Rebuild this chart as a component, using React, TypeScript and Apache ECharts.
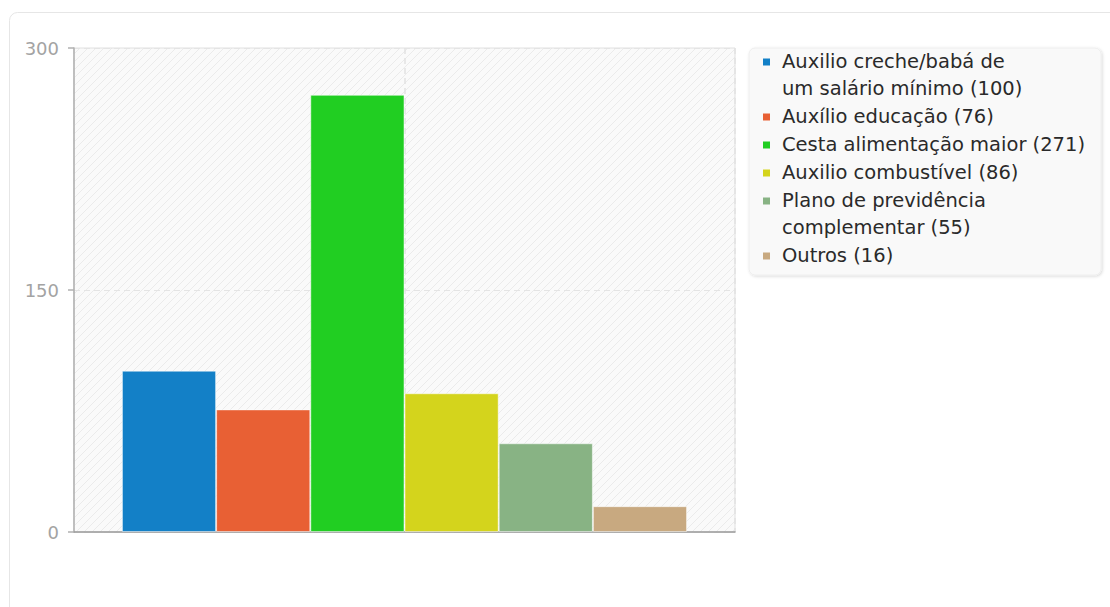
import React, { useEffect, useRef } from "react";
import * as echarts from "echarts";

const seriesNames = [
  "Auxilio creche/babá de\num salário mínimo",
  "Auxílio educação",
  "Cesta alimentação maior",
  "Auxilio combustível",
  "Plano de previdência\ncomplementar",
  "Outros",
];
const seriesValues = [100, 76, 271, 86, 55, 16];
const seriesColors = ["#1380c7", "#e86034", "#21ce22", "#d4d41c", "#88b384", "#c8a980"];
const yTicks = [0, 150, 300];

function makeHatch(): string {
  const c = document.createElement("canvas");
  c.width = 8;
  c.height = 8;
  const ctx = c.getContext("2d");
  if (ctx) {
    ctx.fillStyle = "#fafafa";
    ctx.fillRect(0, 0, 8, 8);
    ctx.strokeStyle = "#ebebeb";
    ctx.lineWidth = 1;
    ctx.beginPath();
    ctx.moveTo(0, 8);
    ctx.lineTo(8, 0);
    ctx.moveTo(-4, 4);
    ctx.lineTo(4, -4);
    ctx.moveTo(4, 12);
    ctx.lineTo(12, 4);
    ctx.stroke();
  }
  return c.toDataURL();
}

export default function App() {
  const ref = useRef<HTMLDivElement>(null);
  useEffect(() => {
    document.body.style.margin = "0";
    if (!ref.current) return;
    const chart = echarts.init(ref.current, undefined, { renderer: "svg" });
    const font = "DejaVu Sans";
    const gridL = 74, gridT = 48, gridW = 661, gridH = 484;

    const legendItems: any[] = [];
    const lineH = 27;
    let y = 61.5;
    seriesNames.forEach((n, i) => {
      const lines = (n + " (" + seriesValues[i] + ")").split("\n");
      legendItems.push({
        type: "rect",
        z: 20,
        shape: { x: 763, y: y - 3, width: 7, height: 7 },
        style: { fill: seriesColors[i] },
      });
      lines.forEach((ln) => {
        legendItems.push({
          type: "text",
          z: 20,
          x: 782,
          y: y,
          style: {
            text: ln,
            fill: "#2a2a2a",
            font: "19.5px " + font,
            verticalAlign: "middle",
            align: "left",
          },
        });
        y += lineH;
      });
      y += 1;
    });

    const hatch = makeHatch();

    const series: any[] = seriesNames.map((n, i) => ({
      type: "bar",
      name: n,
      data: [seriesValues[i]],
      barGap: "0%",
      barCategoryGap: "14.5%",
      itemStyle: { color: seriesColors[i], borderColor: "rgba(255,255,255,0.5)", borderWidth: 1 },
      z: 2,
    }));

    chart.setOption({
      animation: false,
      backgroundColor: "#fff",
      textStyle: { fontFamily: font },
      grid: {
        left: gridL,
        top: gridT,
        width: gridW,
        height: gridH,
        show: true,
        borderColor: "#e0e0e0",
        borderWidth: 1,
        backgroundColor: { image: hatch, repeat: "repeat", imageWidth: 8, imageHeight: 8 } as any,
      },
      xAxis: [
        {
          type: "category",
          data: [""],
          axisTick: { show: false },
          axisLabel: { show: false },
          axisLine: { onZero: false, lineStyle: { color: "#9a9a9a", width: 1.5 } },
          splitLine: { show: false },
        },
        {
          type: "value",
          position: "top",
          min: -1,
          max: 1,
          interval: 1,
          axisLine: { show: false, onZero: false },
          axisTick: { show: false },
          axisLabel: { show: false },
          splitLine: { show: true, lineStyle: { color: "#e2e2e2", type: [6, 4], width: 1.5 } },
        },
      ],
      yAxis: {
        type: "value",
        min: yTicks[0],
        max: yTicks[yTicks.length - 1],
        interval: yTicks[1] - yTicks[0],
        axisLine: { show: true, onZero: false, lineStyle: { color: "#b0b0b0", width: 1.5 } },
        axisTick: { show: true, length: 6, lineStyle: { color: "#b0b0b0", width: 1.5 } },
        axisLabel: { color: "#a3a3a3", fontSize: 18, fontFamily: font, margin: 15 },
        splitLine: { show: true, lineStyle: { color: "#e4e4e4", type: [6, 4], width: 1 } },
      },
      series,
      graphic: [
        {
          type: "rect",
          shape: { x: 9.5, y: 12.5, width: 1200, height: 700, r: 8 },
          style: { fill: "none", stroke: "#e6e6e6", lineWidth: 1 },
          z: -10,
          silent: true,
        },
        {
          type: "rect",
          shape: { x: 749, y: 48, width: 352, height: 227, r: 6 },
          style: {
            fill: "#f9f9f9",
            stroke: "#eeeeee",
            lineWidth: 1,
            shadowBlur: 3,
            shadowOffsetX: 1,
            shadowOffsetY: 1,
            shadowColor: "rgba(0,0,0,0.15)",
          },
          z: 10,
        },
        ...legendItems,
      ],
    });
    return () => chart.dispose();
  }, []);
  return <div ref={ref} style={{ position: "absolute", left: 0, top: 0, width: 1110, height: 607 }} />;
}
